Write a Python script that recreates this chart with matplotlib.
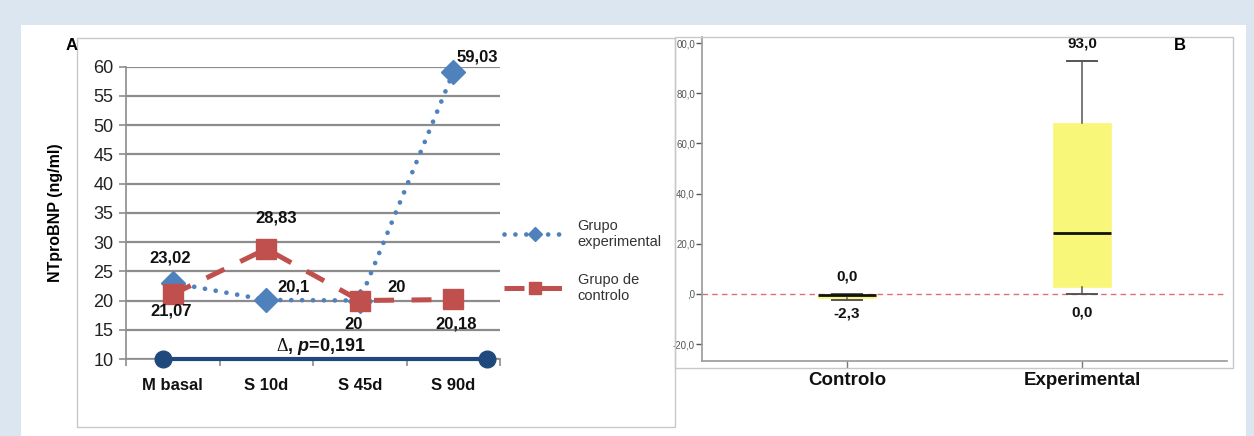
import numpy as np
import matplotlib
matplotlib.use("Agg")
import matplotlib.pyplot as plt
from matplotlib.patches import Rectangle

plt.rcParams['font.family'] = ['Liberation Sans', 'DejaVu Sans']
plt.rcParams['mathtext.fontset'] = 'custom'
plt.rcParams['mathtext.it'] = 'Liberation Sans:bold:italic'
plt.rcParams['mathtext.rm'] = 'Liberation Serif'

# panel A data: NTproBNP by moment
moments = ['M basal', 'S 10d', 'S 45d', 'S 90d']
exp_vals = [23.02, 20.1, 20, 59.03]
ctrl_vals = [21.07, 28.83, 20, 20.18]
exp_text = ['23,02', '20,1', '20', '59,03']
ctrl_text = ['21,07', '28,83', '20', '20,18']
p_text = r'$\mathrm{\Delta}$, $p$=0,191'

# panel B data: change from baseline (boxplot summary)
groups = ['Controlo', 'Experimental']
box_lo = [-2.3, 0.0]
box_q1 = [-1.5, 2.8]
box_med = [-0.5, 24.2]
box_q3 = [-0.1, 68.0]
box_hi = [0.0, 93.0]
hi_text = ['0,0', '93,0']
lo_text = ['-2,3', '0,0']
yticks_b = [-20, 0, 20, 40, 60, 80, 100]
ytick_labels_b = ['-20,0', ',0', '20,0', '40,0', '60,0', '80,0', '00,0']

W, H = 1254, 436
def rect(l, t, r, b):
    return [l / W, 1 - b / H, (r - l) / W, (b - t) / H]

fig = plt.figure(figsize=(W / 100, H / 100), dpi=100)
fig.patch.set_facecolor('#dce6f1')
fig.add_artist(Rectangle((21 / W, 0), (1246 - 21) / W, 1 - 25 / H,
                         transform=fig.transFigure, facecolor='white',
                         edgecolor='none', zorder=0))
# panel frames
fig.add_artist(Rectangle((77 / W, 1 - 427 / H), (675 - 77) / W, (427 - 38) / H,
                         transform=fig.transFigure, facecolor='none',
                         edgecolor='#c8c8c8', lw=1, zorder=1))
fig.add_artist(Rectangle((675 / W, 1 - 368 / H), (1233 - 675) / W, (368 - 37) / H,
                         transform=fig.transFigure, facecolor='none',
                         edgecolor='#c8c8c8', lw=1, zorder=1))

# ---------------- panel A ----------------
axa = fig.add_axes(rect(126, 66.7, 500, 359))
axa.set_facecolor('none')
x = np.arange(len(moments)) + 0.5
axa.set_xlim(0, 4)
axa.set_ylim(10, 60)
axa.set_yticks(np.arange(10, 61, 5))
axa.grid(axis='y', color='#8c8c8c', lw=1.6, zorder=1)
for s in ['top', 'right']:
    axa.spines[s].set_visible(False)
for s in ['left', 'bottom']:
    axa.spines[s].set_color('#8c8c8c')
    axa.spines[s].set_linewidth(1.2)
axa.tick_params(axis='y', labelsize=13, colors='#8c8c8c', labelcolor='#222222',
                length=5, width=1.2, pad=4)
axa.set_xticks(x, moments, fontsize=12, fontweight='bold')
axa.tick_params(axis='x', length=0, pad=14, labelcolor='#111111')
axa.set_xticks(np.arange(0, 5), minor=True)
axa.tick_params(axis='x', which='minor', length=5, width=1.2, colors='#8c8c8c')

l_exp, = axa.plot(x, exp_vals, color='#4f81bd', lw=3.4, ls=(0, (0.01, 2.3)),
                  dash_capstyle='round', marker='D', ms=12.5,
                  label='Grupo\nexperimental', zorder=3, clip_on=False)
l_ctrl, = axa.plot(x, ctrl_vals, color='#c0504d', lw=3.6, ls=(0, (4, 3.5)),
                   marker='s', ms=14, label='Grupo de\ncontrolo', zorder=4,
                   clip_on=False)

exp_off = [(-3, 25), (27, 13), (37, 13), (24, 15)]
ctrl_off = [(-2, -17), (10, 31), (-6, -24), (3, -25)]
for i in range(len(moments)):
    axa.annotate(exp_text[i], (x[i], exp_vals[i]), textcoords='offset pixels',
                 xytext=exp_off[i], ha='center', va='center', fontsize=12,
                 fontweight='bold', color='#111111', zorder=6)
    axa.annotate(ctrl_text[i], (x[i], ctrl_vals[i]), textcoords='offset pixels',
                 xytext=ctrl_off[i], ha='center', va='center', fontsize=12,
                 fontweight='bold', color='#111111', zorder=6)

# comparison bar at the bottom
axa.plot([0.4, 3.86], [10, 10], color='#1f497d', lw=3, marker='o', ms=12,
         clip_on=False, zorder=5)
axa.text(2.08, 12.1, p_text, ha='center', va='center', fontsize=13,
         fontweight='bold', color='#111111', zorder=6)

axa.set_ylabel('NTproBNP (ng/ml)', fontsize=11.5, fontweight='bold', labelpad=22)
fig.text(72 / W, 1 - 45 / H, 'A', fontsize=12, fontweight='bold',
         ha='center', va='center')

fig.legend([l_exp, l_ctrl], [l_exp.get_label(), l_ctrl.get_label()],
           loc='upper left', bbox_to_anchor=(504 / W, 1 - 219 / H),
           bbox_transform=fig.transFigure, frameon=False, fontsize=10.5,
           handlelength=4.3, handletextpad=0.75, labelspacing=1.6,
           markerscale=0.6, borderpad=0, borderaxespad=0, labelcolor='#333333')

# ---------------- panel B ----------------
axb = fig.add_axes(rect(702, 37, 1227, 361))
axb.set_facecolor('none')
pos = [1, 2]
stats = [dict(whislo=box_lo[i], q1=box_q1[i], med=box_med[i], q3=box_q3[i],
              whishi=box_hi[i], fliers=[], label=groups[i]) for i in range(2)]
axb.axhline(0, color='#e07070', lw=1, ls=(0, (4, 3)), zorder=1)
axb.bxp(stats, positions=pos, widths=0.251, showfliers=False,
        patch_artist=True, capwidths=0.128,
        boxprops=dict(facecolor='#f9f77a', edgecolor='#f9f77a', lw=0.5),
        medianprops=dict(color='#111111', lw=2),
        whiskerprops=dict(color='#555555', lw=1.1),
        capprops=dict(color='#555555', lw=1.4))
for i in range(2):
    axb.annotate(hi_text[i], (pos[i], box_hi[i]), textcoords='offset pixels',
                 xytext=(0, 17), ha='center', va='center', fontsize=11,
                 fontweight='bold', color='#111111')
    axb.annotate(lo_text[i], (pos[i], box_lo[i]), textcoords='offset pixels',
                 xytext=(0, -14 if i == 0 else -19), ha='center', va='center',
                 fontsize=11, fontweight='bold', color='#111111')

axb.set_xlim(0.383, 2.617)
axb.set_ylim(-26.7, 102.4)
axb.set_yticks(yticks_b, ytick_labels_b)
axb.set_xticks(pos, groups, fontsize=13.5, fontweight='bold')
for s in ['top', 'right']:
    axb.spines[s].set_visible(False)
for s in ['left', 'bottom']:
    axb.spines[s].set_color('#9a9a9a')
    axb.spines[s].set_linewidth(1.2)
axb.tick_params(axis='y', labelsize=7, colors='#555555', labelcolor='#555555',
                length=4, width=1, pad=1)
axb.tick_params(axis='x', colors='#777777', labelcolor='#111111',
                length=5, width=1, pad=3)
fig.text(1180 / W, 1 - 45 / H, 'B', fontsize=12, fontweight='bold',
         ha='center', va='center')

plt.savefig('out.png', dpi=100)
